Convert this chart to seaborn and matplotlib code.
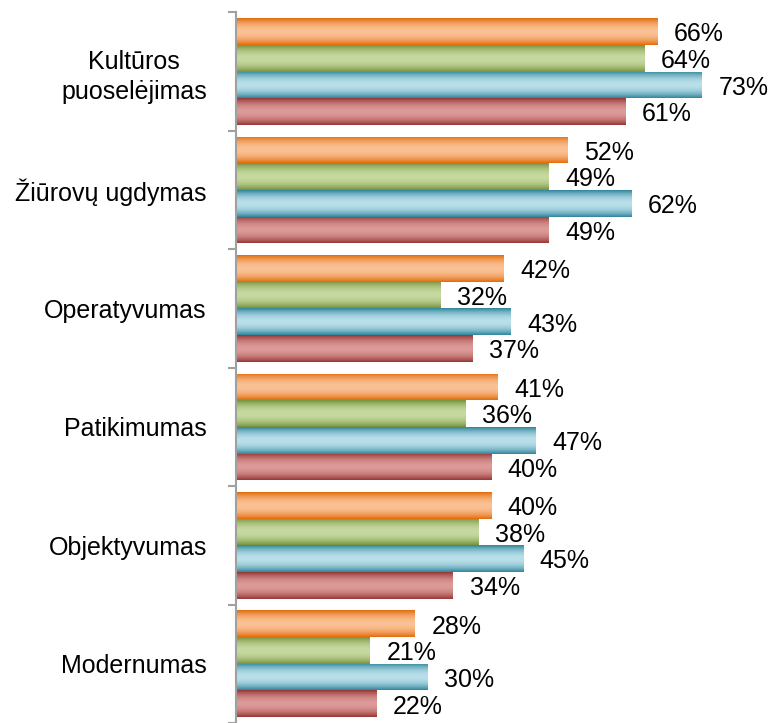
import numpy as np
import pandas as pd
import matplotlib
matplotlib.use("Agg")
import matplotlib.pyplot as plt
import seaborn as sns
from matplotlib.colors import to_rgb

categories = ["Kultūros\npuoselėjimas", "Žiūrovų ugdymas", "Operatyvumas",
              "Patikimumas", "Objektyvumas", "Modernumas"]
series_names = ["S1", "S2", "S3", "S4"]
s1 = [66, 52, 42, 41, 40, 28]
s2 = [64, 49, 32, 36, 38, 21]
s3 = [73, 62, 43, 47, 45, 30]
s4 = [61, 49, 37, 40, 34, 22]

dark_colors = ["#E36C09", "#77933C", "#31859C", "#953735"]
light_colors = ["#FAC195", "#C6D9A0", "#B9E0EA", "#DC9A98"]

rows = []
for name, vals in zip(series_names, [s1, s2, s3, s4]):
    for c, v in zip(categories, vals):
        rows.append({"category": c, "series": name, "value": v})
df = pd.DataFrame(rows)

sns.set_style("white")
plt.rcParams["font.family"] = ["Liberation Sans", "DejaVu Sans"]

fig = plt.figure(figsize=(7.75, 7.23), dpi=100)
ax = fig.add_axes([0.3045, 0.0, 0.6955, 0.983])

sns.barplot(data=df, y="category", x="value", hue="series", order=categories,
            hue_order=series_names, palette=dark_colors, orient="h",
            width=0.9, gap=0, legend=False, ax=ax, edgecolor="white",
            linewidth=1.0, errorbar=None)

ax.set_xlim(0, 84.5)
ax.set_ylim(len(categories) - 0.5, -0.5)
xl, yl = ax.get_xlim(), ax.get_ylim()

# gradient overlays clipped to each bar
t = np.linspace(0, 1, 64)
prof = 1 - np.abs(2 * t - 1) ** 2.0
for i, container in enumerate(ax.containers):
    d = np.array(to_rgb(dark_colors[i]))
    l = np.array(to_rgb(light_colors[i]))
    grad = d[None, :] * (1 - prof[:, None]) + l[None, :] * prof[:, None]
    img = grad[:, None, :]
    for patch in container.patches:
        x0, y0 = patch.get_x(), patch.get_y()
        w, h = patch.get_width(), patch.get_height()
        im = ax.imshow(img, extent=(x0, x0 + w, y0 + h, y0), aspect="auto",
                       origin="upper", interpolation="bilinear", zorder=patch.get_zorder() + 0.1)
        im.set_clip_path(patch)
    for patch, v in zip(container.patches, [s1, s2, s3, s4][i]):
        ax.annotate(f"{v}%", (patch.get_x() + patch.get_width(),
                              patch.get_y() + patch.get_height() / 2),
                    xytext=(12, -2), textcoords="offset points", ha="left",
                    va="center", fontsize=18, color="black", zorder=5,
                    annotation_clip=False)

ax.set_xlim(xl)
ax.set_ylim(yl)

ax.set_xlabel("")
ax.set_ylabel("")
ax.set_xticks([])
for s in ["top", "right", "bottom"]:
    ax.spines[s].set_visible(False)
ax.spines["left"].set_color("#A0A0A0")
ax.spines["left"].set_linewidth(1.5)

ax.set_yticks(range(len(categories)))
ax.set_yticklabels(categories, fontsize=18, multialignment="center",
                   linespacing=1.3, color="black")
ax.tick_params(axis="y", which="major", length=0, pad=21)
ax.set_yticks(np.arange(-0.5, len(categories), 1.0), minor=True)
ax.tick_params(axis="y", which="minor", left=True, length=6, width=1.5,
               color="#A0A0A0", direction="out")

fig.savefig("out.png", dpi=100)
